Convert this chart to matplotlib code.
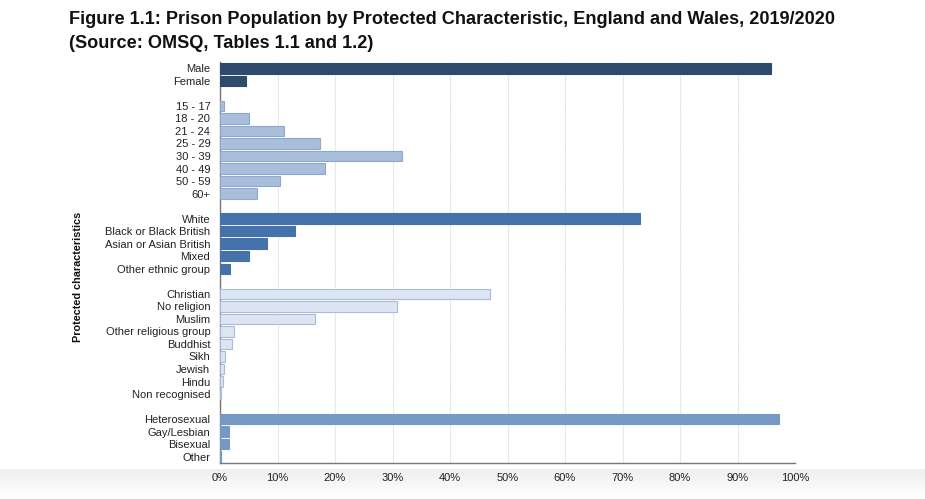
import matplotlib
matplotlib.use("Agg")
import matplotlib.pyplot as plt
import numpy as np

plt.rcParams['font.family'] = ['Liberation Sans', 'DejaVu Sans']

sex_labels = ["Male", "Female"]
sex_values = [95.8, 4.5]
age_labels = ["15 - 17", "18 - 20", "21 - 24", "25 - 29", "30 - 39", "40 - 49", "50 - 59", "60+"]
age_values = [0.75, 5.0, 11.1, 17.4, 31.6, 18.3, 10.4, 6.4]
eth_labels = ["White", "Black or Black British", "Asian or Asian British", "Mixed", "Other ethnic group"]
eth_values = [73.0, 13.0, 8.1, 5.0, 1.7]
rel_labels = ["Christian", "No religion", "Muslim", "Other religious group", "Buddhist",
              "Sikh", "Jewish", "Hindu", "Non recognised"]
rel_values = [47.0, 30.7, 16.5, 2.5, 2.1, 0.8, 0.75, 0.45, 0.1]
sxo_labels = ["Heterosexual", "Gay/Lesbian", "Bisexual", "Other"]
sxo_values = [97.2, 1.55, 1.55, 0.2]
x_ticks = [0, 10, 20, 30, 40, 50, 60, 70, 80, 90, 100]

groups = [
    (sex_labels, sex_values, "#2E4A6D", "#2E4A6D"),
    (age_labels, age_values, "#A9BEDB", "#8DA8CE"),
    (eth_labels, eth_values, "#4572AA", "#4572AA"),
    (rel_labels, rel_values, "#DCE5F1", "#A7BCDA"),
    (sxo_labels, sxo_values, "#7699C4", "#7699C4"),
]

fig = plt.figure(figsize=(9.25, 4.99), dpi=100)

# bottom gradient background
bg = fig.add_axes([0, 0, 1, 30/499], zorder=-10)
grad = np.linspace(1, 0, 50).reshape(-1, 1)
bg.imshow(grad, aspect='auto', cmap=matplotlib.colors.LinearSegmentedColormap.from_list(
    "g", ["#FFFFFF", "#EFEFEF"]), extent=[0, 1, 0, 1], vmin=0, vmax=1)
bg.axis('off')

ax = fig.add_axes([220/925, 1 - 463/499, 575/925, (463 - 62)/499])

labels_all = []
pos = 0
ticks = []
for gi, (labs, vals, fc, ec) in enumerate(groups):
    if gi > 0:
        pos += 1
    ys = []
    for lab, v in zip(labs, vals):
        ys.append(pos)
        ticks.append(pos)
        labels_all.append(lab)
        pos += 1
    ax.barh(ys, vals, height=0.84, color=fc, edgecolor=ec, linewidth=0.8, zorder=3)

ax.set_ylim(pos - 0.5, -0.5)
ax.set_xlim(0, 100)
ax.set_yticks(ticks)
ax.set_yticklabels(labels_all, fontsize=8, color="#222222")
ax.set_xticks(x_ticks)
ax.set_xticklabels([f"{t}%" for t in x_ticks], fontsize=8, color="#222222")
ax.tick_params(axis='y', length=0, pad=7)
ax.tick_params(axis='x', length=0, pad=7)
ax.grid(axis='x', color="#DDDDDD", linewidth=0.8, linestyle=(0, (1, 0.5)), zorder=0)
for s in ["top", "right"]:
    ax.spines[s].set_visible(False)
for s in ["left", "bottom"]:
    ax.spines[s].set_color("#777777")
    ax.spines[s].set_linewidth(1)

fig.text(78/925, 1 - 277/499, "Protected characteristics", rotation=90, fontsize=7.8,
         fontweight='bold', ha='center', va='center', color="#111111")

fig.text(69/925, 1 - 20/499, "Figure 1.1: Prison Population by Protected Characteristic, England and Wales, 2019/2020",
         fontsize=13.1, fontweight='bold', ha='left', va='center', color="#111111")
fig.text(69/925, 1 - 44/499, "(Source: OMSQ, Tables 1.1 and 1.2)",
         fontsize=13.1, fontweight='bold', ha='left', va='center', color="#111111")

fig.savefig("out.png", dpi=100)
